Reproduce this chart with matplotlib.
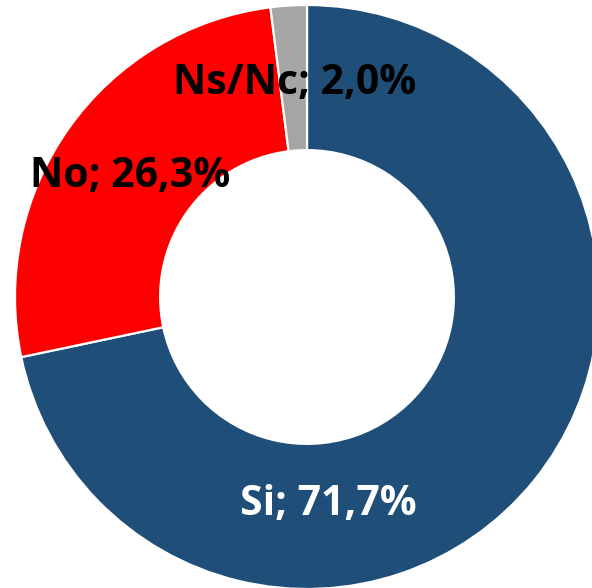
import numpy as np
import matplotlib
matplotlib.use('Agg')
import matplotlib.pyplot as plt

# data
labels = ['Si', 'No', 'Ns/Nc']
values = [71.7, 26.3, 2.0]
colors = ['#1F4E79', '#FF0000', '#A5A5A5']
text_colors = ['white', 'black', 'black']
# label anchor (baseline centre) in data units, radius of donut = 1
label_pos = [(0.072, -0.747), (-0.606, 0.377), (-0.041, 0.695)]

plt.rcParams['font.family'] = ['Open Sans', 'DejaVu Sans']

fig = plt.figure(figsize=(5.92, 5.88), dpi=100)
ax = fig.add_axes([0, 0, 1, 1])
ax.pie(values, colors=colors, startangle=90, counterclock=False,
       radius=1.0,
       wedgeprops=dict(width=0.497, edgecolor='white', linewidth=1.6))

for lab, v, c, (x, y) in zip(labels, values, text_colors, label_pos):
    txt = '%s; %s%%' % (lab, ('%.1f' % v).replace('.', ','))
    ax.text(x, y, txt, ha='center', va='baseline', color=c,
            fontsize=29.5, fontweight='bold')

# centre sits at (307, 297) px, outer radius 292 px
R = 292.0
ax.set_xlim(-307 / R, (592 - 307) / R)
ax.set_ylim(-(588 - 297) / R, 297 / R)
ax.set_aspect('auto')
ax.axis('off')

fig.savefig('out.png', dpi=100)
